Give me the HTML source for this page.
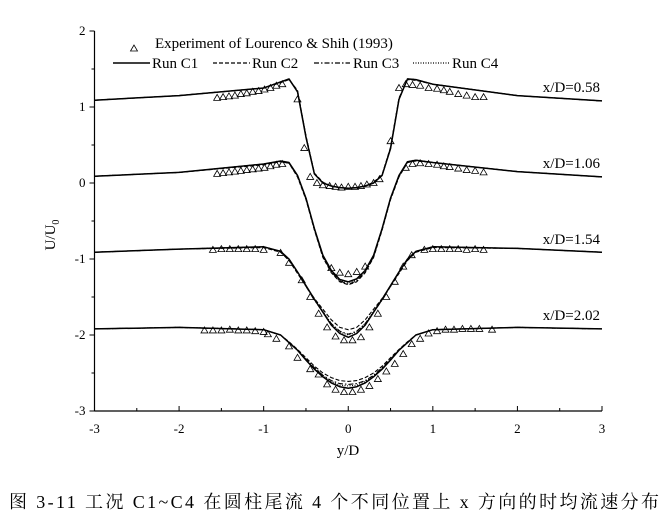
<!DOCTYPE html>
<html><head><meta charset="utf-8">
<style>
html,body{margin:0;padding:0;background:#fff;}
svg{display:block;}
svg text{font-family:"Liberation Serif","Noto Serif CJK SC",serif;}
</style></head>
<body>
<svg id="chart" width="668" height="523" viewBox="0 0 668 523" font-family="Liberation Serif, Noto Serif CJK SC, serif">
<g id="axes"></g>
<g id="series"></g>
<g id="exp"></g>
<g>
  <path d="M134,45 l-3.5,6 h7 z" fill="none" stroke="#000" stroke-width="0.8"/>
  <text x="155" y="48" font-size="15">Experiment of Lourenco &amp; Shih (1993)</text>
  <line x1="113" y1="63" x2="150" y2="63" stroke="#000" stroke-width="1.5"/>
  <text x="152" y="68" font-size="15">Run C1</text>
  <line x1="213" y1="63" x2="250" y2="63" stroke="#000" stroke-width="1.2" stroke-dasharray="4,2"/>
  <text x="252" y="68" font-size="15">Run C2</text>
  <line x1="314" y1="63" x2="350" y2="63" stroke="#000" stroke-width="1.2" stroke-dasharray="5,2,1.5,2"/>
  <text x="353" y="68" font-size="15">Run C3</text>
  <line x1="413" y1="63" x2="450" y2="63" stroke="#000" stroke-width="1.2" stroke-dasharray="1,1.5"/>
  <text x="452" y="68" font-size="15">Run C4</text>
</g>
<g font-size="15" text-anchor="end">
  <text x="600" y="92">x/D=0.58</text>
  <text x="600" y="168">x/D=1.06</text>
  <text x="600" y="244">x/D=1.54</text>
  <text x="600" y="320">x/D=2.02</text>
</g>
<text transform="translate(55,235) rotate(-90)" font-size="15" text-anchor="middle">U/U<tspan font-size="10" dy="4">0</tspan></text>
<text x="348" y="455" font-size="15" text-anchor="middle">y/D</text>
<text x="9" y="508" font-size="18" textLength="650" lengthAdjust="spacing">图 3-11  工况 C1~C4 在圆柱尾流 4 个不同位置上 x 方向的时均流速分布</text>
</svg>
<script>
const xTicks=[-3,-2,-1,0,1,2,3];
const yTicks=[2,1,0,-1,-2,-3];
const stations=["0.58","1.06","1.54","2.02"];
const gridX=[-3,-2,-1,-0.8,-0.7,-0.6,-0.5,-0.4,-0.3,-0.2,-0.1,0,0.1,0.2,0.3,0.4,0.5,0.6,0.7,0.8,1,2,3];
// Run C1
const c1_058=[1.09,1.15,1.25,1.33,1.37,1.2,0.6,0.12,0.0,-0.04,-0.06,-0.07,-0.06,-0.04,0.0,0.1,0.45,1.1,1.37,1.36,1.3,1.15,1.08];
const c1_106=[0.09,0.14,0.25,0.29,0.27,0.1,-0.2,-0.6,-0.95,-1.15,-1.27,-1.3,-1.26,-1.15,-0.95,-0.6,-0.2,0.1,0.28,0.3,0.27,0.15,0.08];
const c1_154=[-0.91,-0.87,-0.84,-0.9,-1.0,-1.17,-1.35,-1.53,-1.7,-1.87,-1.98,-2.03,-1.98,-1.87,-1.7,-1.53,-1.35,-1.17,-1.0,-0.9,-0.84,-0.86,-0.91];
const c1_202=[-1.92,-1.9,-1.93,-2.0,-2.1,-2.2,-2.33,-2.45,-2.55,-2.63,-2.68,-2.7,-2.68,-2.63,-2.55,-2.45,-2.33,-2.2,-2.1,-2.0,-1.93,-1.9,-1.92];
// Run C2
const c2_058=[1.09,1.15,1.25,1.32,1.36,1.22,0.62,0.13,0.01,-0.04,-0.06,-0.07,-0.06,-0.04,0.01,0.11,0.47,1.12,1.36,1.35,1.3,1.15,1.08];
const c2_106=[0.09,0.14,0.24,0.28,0.26,0.08,-0.22,-0.62,-0.98,-1.18,-1.3,-1.34,-1.3,-1.18,-0.98,-0.62,-0.22,0.08,0.27,0.29,0.27,0.15,0.08];
const c2_154=[-0.91,-0.87,-0.85,-0.91,-1.02,-1.19,-1.36,-1.52,-1.66,-1.8,-1.9,-1.93,-1.9,-1.8,-1.66,-1.52,-1.36,-1.19,-1.02,-0.91,-0.85,-0.86,-0.91];
const c2_202=[-1.92,-1.9,-1.93,-2.0,-2.09,-2.19,-2.3,-2.41,-2.5,-2.56,-2.6,-2.61,-2.6,-2.56,-2.5,-2.41,-2.3,-2.19,-2.09,-2.0,-1.93,-1.9,-1.92];
// Run C3
const c3_058=[1.09,1.15,1.25,1.33,1.36,1.21,0.61,0.12,0.0,-0.04,-0.06,-0.07,-0.06,-0.04,0.0,0.1,0.46,1.11,1.37,1.36,1.3,1.15,1.08];
const c3_106=[0.09,0.14,0.25,0.28,0.26,0.09,-0.21,-0.61,-0.97,-1.17,-1.29,-1.33,-1.29,-1.17,-0.97,-0.61,-0.21,0.09,0.27,0.3,0.27,0.15,0.08];
const c3_154=[-0.91,-0.87,-0.84,-0.9,-1.01,-1.18,-1.36,-1.54,-1.7,-1.85,-1.95,-1.99,-1.95,-1.85,-1.7,-1.54,-1.36,-1.18,-1.01,-0.9,-0.84,-0.86,-0.91];
const c3_202=[-1.92,-1.9,-1.93,-2.0,-2.1,-2.2,-2.32,-2.43,-2.53,-2.6,-2.64,-2.65,-2.64,-2.6,-2.53,-2.43,-2.32,-2.2,-2.1,-2.0,-1.93,-1.9,-1.92];
// Run C4
const c4_058=[1.09,1.15,1.25,1.33,1.37,1.2,0.6,0.12,0.0,-0.04,-0.06,-0.07,-0.06,-0.04,0.0,0.1,0.45,1.1,1.37,1.36,1.3,1.15,1.08];
const c4_106=[0.09,0.14,0.25,0.29,0.27,0.1,-0.2,-0.6,-0.96,-1.16,-1.28,-1.31,-1.28,-1.16,-0.96,-0.6,-0.2,0.1,0.28,0.3,0.27,0.15,0.08];
const c4_154=[-0.91,-0.87,-0.84,-0.9,-1.0,-1.17,-1.35,-1.53,-1.69,-1.85,-1.96,-2.0,-1.96,-1.85,-1.69,-1.53,-1.35,-1.17,-1.0,-0.9,-0.84,-0.86,-0.91];
const c4_202=[-1.92,-1.9,-1.93,-2.0,-2.1,-2.2,-2.32,-2.44,-2.54,-2.61,-2.66,-2.67,-2.66,-2.61,-2.54,-2.44,-2.32,-2.2,-2.1,-2.0,-1.93,-1.9,-1.92];
// Experiment
const e058_x=[-1.55,-1.48,-1.41,-1.34,-1.27,-1.2,-1.13,-1.06,-0.99,-0.92,-0.85,-0.78,-0.6,-0.52,-0.45,-0.37,-0.3,-0.22,-0.15,-0.08,0,0.08,0.15,0.22,0.3,0.37,0.5,0.6,0.68,0.76,0.85,0.95,1.05,1.13,1.2,1.3,1.4,1.5,1.6];
const e058_y=[1.12,1.13,1.14,1.15,1.17,1.18,1.2,1.21,1.23,1.25,1.28,1.3,1.1,0.46,0.08,0.0,-0.03,-0.04,-0.05,-0.06,-0.05,-0.05,-0.04,-0.02,0.0,0.05,0.55,1.25,1.3,1.29,1.28,1.25,1.24,1.22,1.2,1.17,1.15,1.13,1.13];
const e106_x=[-1.55,-1.48,-1.41,-1.34,-1.27,-1.2,-1.13,-1.06,-0.99,-0.92,-0.85,-0.78,-0.2,-0.1,0,0.1,0.2,0.68,0.76,0.85,0.95,1.05,1.13,1.2,1.3,1.4,1.5,1.6];
const e106_y=[0.12,0.13,0.14,0.15,0.16,0.17,0.18,0.19,0.2,0.22,0.24,0.25,-1.12,-1.18,-1.2,-1.17,-1.1,0.2,0.25,0.26,0.25,0.24,0.22,0.21,0.19,0.17,0.16,0.14];
const e154_x=[-1.6,-1.5,-1.4,-1.3,-1.2,-1.1,-1.0,-0.8,-0.7,-0.55,-0.45,-0.35,-0.25,-0.15,-0.05,0.05,0.15,0.25,0.35,0.45,0.55,0.65,0.75,0.9,1.0,1.1,1.2,1.3,1.4,1.5,1.6];
const e154_y=[-0.88,-0.87,-0.87,-0.87,-0.87,-0.87,-0.88,-0.92,-1.05,-1.28,-1.5,-1.72,-1.9,-2.02,-2.07,-2.07,-2.03,-1.9,-1.72,-1.5,-1.3,-1.1,-0.95,-0.88,-0.87,-0.87,-0.87,-0.87,-0.88,-0.87,-0.88];
const e202_x=[-1.7,-1.6,-1.5,-1.4,-1.3,-1.2,-1.1,-1.0,-0.95,-0.85,-0.7,-0.6,-0.45,-0.35,-0.25,-0.15,-0.05,0.05,0.15,0.25,0.35,0.45,0.55,0.65,0.75,0.85,0.95,1.05,1.15,1.25,1.35,1.45,1.55,1.7];
const e202_y=[-1.94,-1.94,-1.94,-1.93,-1.94,-1.94,-1.95,-1.96,-1.99,-2.05,-2.15,-2.3,-2.45,-2.52,-2.65,-2.72,-2.75,-2.75,-2.72,-2.67,-2.58,-2.48,-2.38,-2.25,-2.12,-2.05,-1.98,-1.95,-1.93,-1.93,-1.92,-1.92,-1.92,-1.93];

const X0=94.5,X1=602,Y0=31,Y1=411;
function sx(v){return X0+(v+3)/6*(X1-X0);}
function sy(v){return Y0+(2-v)/5*(Y1-Y0);}
const NS="http://www.w3.org/2000/svg";
function mk(tag,attrs,parent){const e=document.createElementNS(NS,tag);for(const k in attrs)e.setAttribute(k,attrs[k]);parent.appendChild(e);return e;}
const axes=document.getElementById('axes');
let a=mk('line',{x1:X0,y1:Y0,x2:X0,y2:Y1,stroke:'#000','stroke-width':1.2},axes);


a=mk('line',{x1:X0,y1:Y1,x2:X1,y2:Y1,stroke:'#000','stroke-width':1.2},axes);


xTicks.forEach((t,i)=>{
  const tk=mk('line',{x1:sx(t),y1:Y1,x2:sx(t),y2:Y1-5,stroke:'#000','stroke-width':1},axes);
  
  
  if(i<xTicks.length-1){const m=mk('line',{x1:sx(t+0.5),y1:Y1,x2:sx(t+0.5),y2:Y1-3,stroke:'#000','stroke-width':1},axes);
  
  }
  const lb=mk('text',{x:sx(t),y:Y1+22,'font-size':13,'text-anchor':'middle'},axes);
  lb.textContent=String(t);
  
  
});
yTicks.forEach((t,i)=>{
  const tk=mk('line',{x1:X0,y1:sy(t),x2:X0-5,y2:sy(t),stroke:'#000','stroke-width':1},axes);
  
  
  if(i<yTicks.length-1){const m=mk('line',{x1:X0,y1:sy(t-0.5),x2:X0-3,y2:sy(t-0.5),stroke:'#000','stroke-width':1},axes);
  
  }
  const lb=mk('text',{x:X0-9,y:sy(t)+4,'font-size':13,'text-anchor':'end'},axes);
  lb.textContent=String(t);
  
  
});
const ser=document.getElementById('series');
const runs=[
 {name:'c1',data:[c1_058,c1_106,c1_154,c1_202],dash:'',w:1.5},
 {name:'c2',data:[c2_058,c2_106,c2_154,c2_202],dash:'4,2',w:1.1},
 {name:'c3',data:[c3_058,c3_106,c3_154,c3_202],dash:'5,2,1.5,2',w:1.1},
 {name:'c4',data:[c4_058,c4_106,c4_154,c4_202],dash:'1,1.5',w:1.1}];
runs.forEach(r=>{
  r.data.forEach((arr,si)=>{
    const d=arr.map((v,i)=>(i?'L':'M')+sx(gridX[i]).toFixed(1)+','+sy(v).toFixed(1)).join(' ');
    const p=mk('path',{d:d,fill:'none',stroke:'#000','stroke-width':r.w,'stroke-dasharray':r.dash,'stroke-linejoin':'round'},ser);
    
    
  });
});
const ex=document.getElementById('exp');
[[e058_x,e058_y],[e106_x,e106_y],[e154_x,e154_y],[e202_x,e202_y]].forEach((pr,si)=>{
  pr[0].forEach((xv,i)=>{
    const cx=sx(xv),cy=sy(pr[1][i]);
    const t=mk('path',{d:`M${cx},${cy-3.5} L${cx-3.5},${cy+2.5} L${cx+3.5},${cy+2.5} Z`,fill:'none',stroke:'#000','stroke-width':0.8},ex);
    
    
  });
});
</script>
</body></html>
